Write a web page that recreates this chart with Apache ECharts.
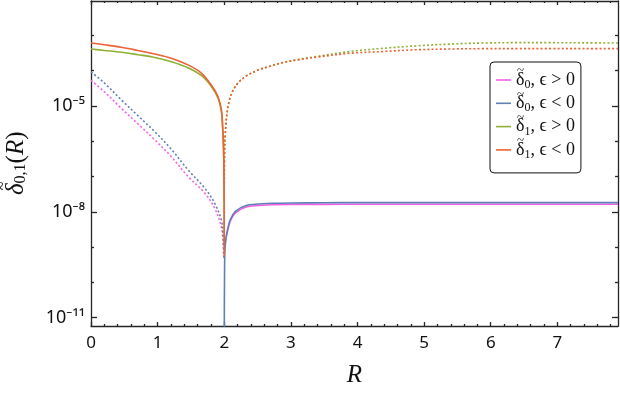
<!DOCTYPE html>
<html><head><meta charset="utf-8">
<script src="https://cdn.jsdelivr.net/npm/echarts@6/dist/echarts.min.js"></script>
<style>html,body{margin:0;padding:0;background:#fff}#c{width:620px;height:395px}</style>
</head><body><div id="c"></div><script>
// ---- axis ticks ----
const xTickValues = [0, 1, 2, 3, 4, 5, 6, 7];
const xMinorTickValues = [0.2,0.4,0.6,0.8,1.2,1.4,1.6,1.8,2.2,2.4,2.6,2.8,3.2,3.4,3.6,3.8,4.2,4.4,4.6,4.8,5.2,5.4,5.6,5.8,6.2,6.4,6.6,6.8,7.2,7.4,7.6,7.8];
const yTickValues = [-11, -8, -5];
const yTickLabels = ['10⁻¹¹', '10⁻⁸', '10⁻⁵'];
const yMinorTickValues = [-10, -9, -7, -6, -4, -3];
const xMin = 0, xMax = 7.91;
const yMinExp = -11.235, yMaxExp = -2.03;

// ---- series (values given as log10 of |delta|) ----
// delta_0, R < 2 (dotted)
const R_d0_left = [0, 0.2, 0.455, 0.7, 0.956, 1.206, 1.456, 1.707, 1.857, 1.956, 1.98, 1.995];
const d0Pos_left = [-4.28, -4.60, -5.07, -5.50, -5.96, -6.44, -7.00, -7.47, -7.90, -8.42, -8.75, -9.30];
const d0Neg_left = [-4.04, -4.35, -4.83, -5.27, -5.73, -6.23, -6.81, -7.33, -7.76, -8.23, -8.60, -9.30];
// delta_0, R > 2 (solid)
const R_d0_right = [2.0, 2.005, 2.015, 2.04, 2.09, 2.167, 2.317, 2.52, 2.72, 3.0, 3.5, 4, 5, 6, 7, 7.91];
const d0Pos_right = [-9.05, -9.0, -8.85, -8.62, -8.27, -8.03, -7.87, -7.82, -7.80, -7.79, -7.79, -7.785, -7.785, -7.785, -7.785, -7.785];
const d0Neg_right = [-12, -9.5, -8.95, -8.6, -8.23, -7.99, -7.83, -7.78, -7.76, -7.75, -7.745, -7.74, -7.74, -7.74, -7.74, -7.74];
// delta_1, R < 2 (solid)
const R_d1_left = [0, 0.2, 0.455, 0.7, 0.956, 1.206, 1.456, 1.656, 1.806, 1.907, 1.956, 1.975, 1.988, 1.996, 2.0];
const d1Pos_left = [-3.39, -3.43, -3.48, -3.55, -3.63, -3.75, -3.92, -4.14, -4.45, -4.78, -5.14, -5.58, -6.13, -6.93, -8.9];
const d1Neg_left = [-3.22, -3.27, -3.34, -3.43, -3.53, -3.65, -3.84, -4.07, -4.41, -4.74, -5.11, -5.55, -6.10, -6.90, -9.27];
// delta_1, R > 2 (dotted)
const R_d1_right = [2.0, 2.004, 2.016, 2.066, 2.167, 2.317, 2.52, 2.72, 2.887, 3.1, 3.389, 3.889, 4.389, 4.89, 5.39, 5.89, 6.39, 6.89, 7.39, 7.91];
const d1Pos_right = [-7.2, -6.4, -5.77, -4.92, -4.45, -4.17, -3.98, -3.86, -3.77, -3.69, -3.60, -3.46, -3.37, -3.30, -3.25, -3.22, -3.21, -3.21, -3.215, -3.22];
const d1Neg_right = [-7.2, -6.4, -5.77, -4.92, -4.45, -4.17, -3.98, -3.86, -3.77, -3.70, -3.62, -3.51, -3.46, -3.41, -3.39, -3.38, -3.38, -3.38, -3.38, -3.38];

const names = ['d0p', 'd0n', 'd1p', 'd1n'];
const colors = { d0p: '#F75EE8', d0n: '#5E81B5', d1p: '#8FB032', d1n: '#EB6235' };
const legendText = {
  d0p: '{a|δ}{s|0}{a|, ϵ > 0}',
  d0n: '{a|δ}{s|0}{a|, ϵ < 0}',
  d1p: '{a|δ}{s|1}{a|, ϵ > 0}',
  d1n: '{a|δ}{s|1}{a|, ϵ < 0}'
};

function pts(xs, logs) { return xs.map((x, i) => [x, Math.pow(10, logs[i])]); }

function mk(name, xs, logs, dotted) {
  return {
    name: name, type: 'line', xAxisIndex: 0, yAxisIndex: 0,
    data: pts(xs, logs), showSymbol: false, symbol: 'none',
    smooth: 0.35,
    color: colors[name],
    lineStyle: { color: colors[name], width: 1.6, type: dotted ? [2, 2.2] : 'solid', cap: 'butt' },
    z: 2, animation: false
  };
}

const series = [
  mk('d0p', R_d0_right, d0Pos_right, false),
  mk('d0p', R_d0_left, d0Pos_left, true),
  mk('d0n', R_d0_right, d0Neg_right, false),
  mk('d0n', R_d0_left, d0Neg_left, true),
  mk('d1p', R_d1_left, d1Pos_left, false),
  mk('d1p', R_d1_right, d1Pos_right, true),
  mk('d1n', R_d1_left, d1Neg_left, false),
  mk('d1n', R_d1_right, d1Neg_right, true)
];

const frame = { color: '#262626', width: 1.3 };
const labelFont = 'Noto Sans';
const serif = 'Liberation Serif';

function xAx(pos, major, showLabel) {
  return {
    type: 'value', position: pos, min: xMin, max: xMax,
    axisLine: { show: major, onZero: false, lineStyle: frame },
    axisTick: { show: true, inside: true, length: major ? 4 : 2, lineStyle: frame,
      customValues: major ? xTickValues : xMinorTickValues },
    axisLabel: { show: showLabel, customValues: xTickValues, fontFamily: labelFont, fontSize: 17, color: '#111', margin: 9 },
    splitLine: { show: false }
  };
}
function yAx(pos, major, showLabel) {
  return {
    type: 'value', position: pos, min: yMinExp, max: yMaxExp,
    axisLine: { show: major, onZero: false, lineStyle: frame },
    axisTick: { show: true, inside: true, length: major ? 6 : 3, lineStyle: frame,
      customValues: major ? yTickValues : yMinorTickValues },
    axisLabel: { show: showLabel, customValues: yTickValues, fontFamily: labelFont, fontSize: 18, color: '#111', margin: 6,
      formatter: v => yTickLabels[yTickValues.indexOf(Math.round(v))] },
    splitLine: { show: false }
  };
}

const xAxes = [xAx('bottom', true, true), xAx('bottom', false, false), xAx('top', true, false), xAx('top', false, false)];
xAxes[0].name = 'R';
xAxes[0].nameLocation = 'middle';
xAxes[0].nameGap = 37;
xAxes[0].nameTextStyle = { fontFamily: serif, fontStyle: 'italic', fontSize: 25, color: '#111' };

const yAxes = [
  { type: 'log', logBase: 10, min: Math.pow(10, yMinExp), max: Math.pow(10, yMaxExp), show: false, splitLine: { show: false } },
  yAx('left', true, true), yAx('left', false, false), yAx('right', true, false), yAx('right', false, false)
];

// y-axis title (rotated) and tilde accents
const yTitle = '{d|δ}{s|0,1}{p|(}{i|R}{p|)}';
const legendRowCenters = [81, 104.3, 127.6, 150.9];
const graphics = [
  {
    type: 'group', x: 16, y: 159, rotation: Math.PI / 2, z: 100,
    children: [
      { type: 'text', x: -36, y: 0, style: {
          text: yTitle, align: 'left', verticalAlign: 'middle', fill: '#111',
          rich: {
            d: { fontFamily: serif, fontStyle: 'italic', fontSize: 25, fill: '#111' },
            i: { fontFamily: serif, fontStyle: 'italic', fontSize: 25, fill: '#111' },
            p: { fontFamily: serif, fontSize: 25, fill: '#111' },
            s: { fontFamily: serif, fontSize: 16, fill: '#111', padding: [10, 0, 0, 0] }
          } } },
      { type: 'text', x: -27, y: -13, style: { text: '~', fontFamily: serif, fontSize: 16, align: 'center', verticalAlign: 'middle', fill: '#111' } }
    ]
  }
].concat(legendRowCenters.map(yc => ({
  type: 'text', x: 520.5, y: yc - 10, z: 100,
  style: { text: '~', fontFamily: serif, fontSize: 13, align: 'center', verticalAlign: 'middle', fill: '#111' }
})));

const chart = echarts.init(document.getElementById('c'), null, { renderer: 'canvas' });
chart.setOption({
  animation: false,
  backgroundColor: '#fff',
  grid: { left: 91, right: 2, top: 1, bottom: 69, containLabel: false, outerBoundsMode: 'none' },
  xAxis: xAxes,
  yAxis: yAxes,
  legend: {
    orient: 'vertical', left: 490, top: 62,
    data: names.map(n => ({ name: n, icon: 'rect' })),
    itemWidth: 15, itemHeight: 1.6, itemGap: 3.3,
    padding: [9, 6, 12, 6],
    borderColor: '#111', borderWidth: 1, borderRadius: 4, backgroundColor: '#fff',
    formatter: n => legendText[n],
    textStyle: {
      color: '#111',
      rich: {
        a: { fontFamily: serif, fontSize: 18, lineHeight: 22, color: '#111' },
        s: { fontFamily: serif, fontSize: 12, lineHeight: 13, verticalAlign: 'bottom', color: '#111' }
      }
    },
    selectedMode: false
  },
  graphic: graphics,
  series: series
});
</script></body></html>
